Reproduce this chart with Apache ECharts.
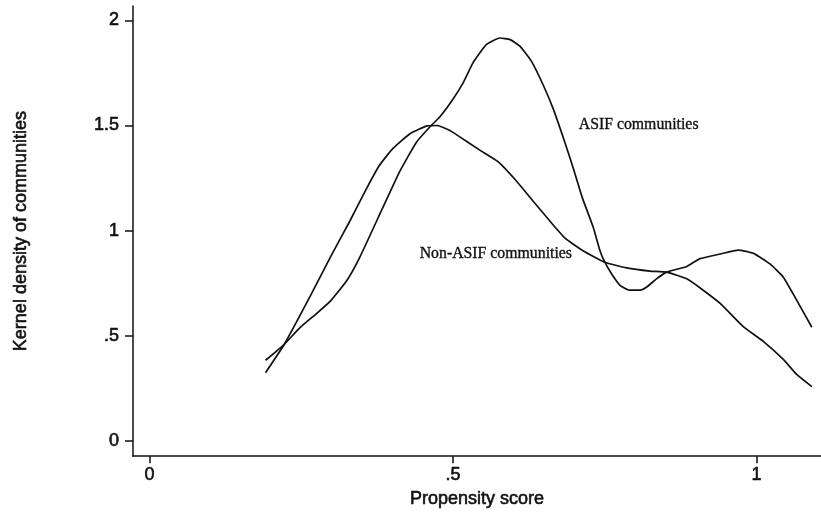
<!DOCTYPE html>
<html>
<head>
<meta charset="utf-8">
<script src="https://cdn.jsdelivr.net/npm/echarts@6/dist/echarts.min.js"></script>
<style>
  html, body { margin: 0; padding: 0; background: #fff; }
  #chart { width: 821px; height: 513px; }
</style>
</head>
<body>
<div id="chart"></div>
<script>
// Kernel density estimates of the propensity score, [score, density]
const asifDensity = [
  [0.191, 0.384], [0.222, 0.460], [0.247, 0.537], [0.275, 0.606], [0.299, 0.669],
  [0.325, 0.763], [0.346, 0.872], [0.384, 1.108], [0.412, 1.281], [0.440, 1.422],
  [0.464, 1.500], [0.478, 1.540], [0.500, 1.626], [0.517, 1.705], [0.533, 1.799],
  [0.555, 1.885], [0.577, 1.916], [0.594, 1.908], [0.610, 1.877], [0.629, 1.806],
  [0.649, 1.689], [0.665, 1.579], [0.682, 1.438], [0.698, 1.297], [0.713, 1.156],
  [0.731, 1.015], [0.742, 0.905], [0.750, 0.850], [0.761, 0.795], [0.775, 0.740],
  [0.791, 0.717], [0.808, 0.717], [0.819, 0.732], [0.835, 0.771], [0.852, 0.803],
  [0.885, 0.830], [0.906, 0.866], [0.940, 0.889], [0.970, 0.908], [0.995, 0.892],
  [1.022, 0.842], [1.044, 0.779], [1.066, 0.670], [1.091, 0.541]
];

const nonAsifDensity = [
  [0.191, 0.325], [0.222, 0.460], [0.264, 0.685], [0.299, 0.880], [0.330, 1.046],
  [0.358, 1.203], [0.379, 1.312], [0.401, 1.391], [0.429, 1.461], [0.457, 1.498],
  [0.473, 1.500], [0.494, 1.477], [0.511, 1.446], [0.544, 1.383], [0.574, 1.328],
  [0.605, 1.234], [0.632, 1.140], [0.657, 1.054], [0.685, 0.963], [0.714, 0.905],
  [0.750, 0.850], [0.786, 0.823], [0.824, 0.808], [0.852, 0.803], [0.885, 0.771],
  [0.912, 0.717], [0.940, 0.654], [0.978, 0.544], [1.011, 0.474], [1.044, 0.388],
  [1.066, 0.317], [1.091, 0.259]
];

const xTicks = [0, 0.5, 1];
const yTicks = [0, 0.5, 1, 1.5, 2];

const seriesNames = ['ASIF communities', 'Non-ASIF communities'];
const xTitle = 'Propensity score';
const yTitle = 'Kernel density of communities';

// Stata-style tick text: drop the leading zero (".5")
const tickText = v => String(v).replace(/^0\./, '.');

const ink = '#111';
const sansFont = '"Liberation Sans", Arial, Helvetica, sans-serif';
const serifFont = '"Liberation Serif", "Times New Roman", Times, serif';

// slightly heavier glyphs, as on a printed page
const sansText = {
  color: ink, fontFamily: sansFont, fontSize: 18,
  textBorderColor: ink, textBorderWidth: 0.6
};
const serifText = {
  color: ink, fontFamily: serifFont, fontSize: 15.8,
  textBorderColor: ink, textBorderWidth: 0.35
};

const chart = echarts.init(document.getElementById('chart'), null, { renderer: 'canvas' });

const curveStyle = { color: ink, width: 1.7 };
const axisStroke = { color: ink, width: 1.5 };

function annotation(text, coord) {
  return {
    symbol: 'circle', symbolSize: 0,
    label: Object.assign({
      show: true, formatter: text, position: 'inside',
      align: 'left', verticalAlign: 'middle'
    }, serifText),
    data: [{ coord: coord }]
  };
}

chart.setOption({
  backgroundColor: '#fff',
  animation: false,
  grid: { left: 133, right: 0, top: 6, bottom: 52 },
  xAxis: {
    type: 'value',
    min: -0.0273,
    max: 1.1061,
    name: xTitle,
    nameLocation: 'middle',
    nameGap: 21,
    nameTextStyle: Object.assign({ verticalAlign: 'top' }, sansText),
    axisLine: { show: true, onZero: false, lineStyle: axisStroke },
    axisTick: { show: true, length: 7, customValues: xTicks, lineStyle: axisStroke },
    axisLabel: Object.assign({ customValues: xTicks, formatter: tickText, margin: 10 }, sansText),
    splitLine: { show: false }
  },
  yAxis: {
    type: 'value',
    min: -0.072,
    max: 2.068,
    name: yTitle,
    nameLocation: 'middle',
    nameRotate: 90,
    nameGap: 103,
    nameTextStyle: sansText,
    axisLine: { show: true, onZero: false, lineStyle: axisStroke },
    axisTick: { show: true, length: 8, customValues: yTicks, lineStyle: axisStroke },
    axisLabel: Object.assign({ customValues: yTicks, formatter: tickText, margin: 14 }, sansText),
    splitLine: { show: false }
  },
  series: [
    {
      name: seriesNames[0],
      type: 'line',
      data: asifDensity,
      showSymbol: false,
      smooth: 0.15,
      lineStyle: curveStyle,
      silent: true,
      markPoint: annotation(seriesNames[0], [0.707, 1.503])
    },
    {
      name: seriesNames[1],
      type: 'line',
      data: nonAsifDensity,
      showSymbol: false,
      smooth: 0.15,
      lineStyle: curveStyle,
      silent: true,
      markPoint: annotation(seriesNames[1], [0.445, 0.892])
    }
  ]
});
</script>
</body>
</html>
